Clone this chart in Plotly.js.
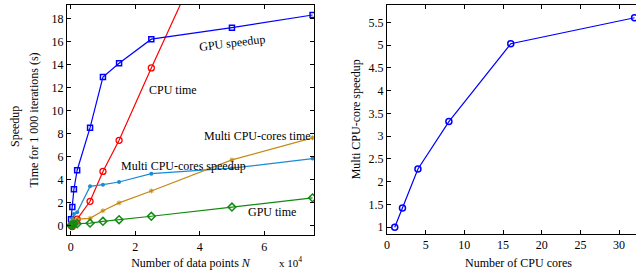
<!DOCTYPE html>
<html>
<head>
<meta charset="utf-8">
<script src="https://cdn.plot.ly/plotly-3.0.1.min.js"></script>
<style>html,body{margin:0;padding:0;overflow:hidden;background:#fff;}#chart{width:650px;height:275px;}</style>
</head>
<body>
<div id="chart"></div>
<script>
// Left panel: number of data points
const N = [100, 500, 1000, 2000, 6000, 10000, 15000, 25000, 50000, 75000];
const gpuSpeedup = [0.55, 1.6, 3.15, 4.8, 8.5, 12.9, 14.1, 16.2, 17.2, 18.3];
const cpuTime = [0.0, -0.1, 0.25, 0.55, 2.1, 4.7, 7.4, 13.7, 29.0, 44.0];
const multiSpeedup = [0.3, 0.6, 1.0, 1.15, 3.4, 3.55, 3.78, 4.5, 4.98, 5.82];
const multiTime = [0.2, 0.3, 0.45, 0.55, 0.62, 1.28, 1.96, 3.0, 5.7, 7.62];
const gpuTime = [0.0, 0.05, 0.1, 0.15, 0.2, 0.36, 0.5, 0.8, 1.6, 2.4];
const xTickVals = [0, 20000, 40000, 60000];
const xTickText = ['0', '2', '4', '6'];

// Right panel: CPU cores
const cores = [1, 2, 4, 8, 16, 32];
const coreSpeedup = [1, 1.42, 2.28, 3.32, 5.03, 5.6];

const FONT = 'Liberation Serif, Times New Roman, serif';

const traces = [
  {x: N, y: cpuTime, mode: 'lines+markers', line: {color: '#ff0000', width: 1.2},
   marker: {symbol: 'circle-open', size: 6, color: '#ff0000', line: {width: 1.3}}, xaxis: 'x', yaxis: 'y'},
  {x: N, y: gpuSpeedup, mode: 'lines+markers', line: {color: '#0000ff', width: 1.2},
   marker: {symbol: 'square-open', size: 5, color: '#0000ff', line: {width: 1.5}}, xaxis: 'x', yaxis: 'y'},
  {x: N, y: multiSpeedup, mode: 'lines+markers', line: {color: '#1b8ad3', width: 1.2},
   marker: {symbol: 'circle', size: 4, color: '#1b8ad3'}, xaxis: 'x', yaxis: 'y'},
  {x: N, y: multiTime, mode: 'lines+markers', line: {color: '#c48a12', width: 1.2},
   marker: {symbol: 'asterisk-open', size: 4, color: '#c48a12', line: {width: 1}}, xaxis: 'x', yaxis: 'y'},
  {x: N, y: gpuTime, mode: 'lines+markers', line: {color: '#118a11', width: 1.2},
   marker: {symbol: 'diamond-open', size: 6, color: '#118a11', line: {width: 1.5}}, xaxis: 'x', yaxis: 'y'},
  {x: cores, y: coreSpeedup, mode: 'lines+markers', line: {color: '#0000ff', width: 1.2},
   marker: {symbol: 'circle-open', size: 6, color: '#0000ff', line: {width: 1.5}}, xaxis: 'x2', yaxis: 'y2', cliponaxis: false}
];

const axisCommon = {
  showgrid: false, zeroline: false, showline: true, linecolor: '#000', linewidth: 1.2,
  mirror: 'ticks', ticks: 'inside', ticklen: 4, tickcolor: '#000', tickwidth: 1,
  tickfont: {family: FONT, size: 12, color: '#000'}
};

const layout = {
  width: 650, height: 275,
  margin: {l: 0, r: 0, t: 5, b: 40},
  paper_bgcolor: '#fff', plot_bgcolor: '#fff',
  showlegend: false,
  font: {family: FONT, size: 12, color: '#000'},
  xaxis: Object.assign({}, axisCommon, {
    domain: [67/650, 314/650], range: [-1150, 75450],
    tickvals: xTickVals, ticktext: xTickText,
    title: {text: 'Number of data points <i>N</i>', font: {family: FONT, size: 12}, standoff: 6}
  }),
  yaxis: Object.assign({}, axisCommon, {
    domain: [0, 1], range: [-0.83, 19.17], dtick: 2,
    title: {text: 'Time for 1 000 iterations (s)', font: {family: FONT, size: 12}, standoff: 10}
  }),
  xaxis2: Object.assign({}, axisCommon, {
    domain: [387/650, 1], range: [0, 34.0], anchor: 'y2', dtick: 5, tick0: 0,
    title: {text: 'Number of CPU cores', font: {family: FONT, size: 12}, standoff: 7}
  }),
  yaxis2: Object.assign({}, axisCommon, {
    domain: [0.006, 1], range: [0.86, 5.88], anchor: 'x2', dtick: 0.5,
    title: {text: 'Multi CPU-core speedup', font: {family: FONT, size: 12}, standoff: 5}
  }),
  annotations: [
    {text: 'Speedup', xref: 'paper', yref: 'paper', x: 15/650, y: (235-127)/230, xanchor: 'center', yanchor: 'middle', textangle: -90, showarrow: false, font: {family: FONT, size: 12}},
    {text: 'x 10<sup>4</sup>', xref: 'paper', yref: 'paper', x: 290/650, y: (235-262)/230, xanchor: 'center', yanchor: 'middle', showarrow: false, font: {family: FONT, size: 11}},
    {text: 'GPU speedup', xref: 'x', yref: 'y', x: 50000, y: 15.9, textangle: -7, showarrow: false, font: {family: FONT, size: 12}},
    {text: 'CPU time', xref: 'x', yref: 'y', x: 31700, y: 11.8, showarrow: false, font: {family: FONT, size: 12}},
    {text: 'Multi CPU-cores time', xref: 'x', yref: 'y', x: 57800, y: 7.8, showarrow: false, font: {family: FONT, size: 12}},
    {text: 'Multi CPU-cores speedup', xref: 'x', yref: 'y', x: 35000, y: 5.2, showarrow: false, font: {family: FONT, size: 12}},
    {text: 'GPU time', xref: 'x', yref: 'y', x: 62300, y: 1.2, showarrow: false, font: {family: FONT, size: 12}}
  ]
};

Plotly.newPlot('chart', traces, layout, {displayModeBar: false, staticPlot: true});
</script>
</body>
</html>
